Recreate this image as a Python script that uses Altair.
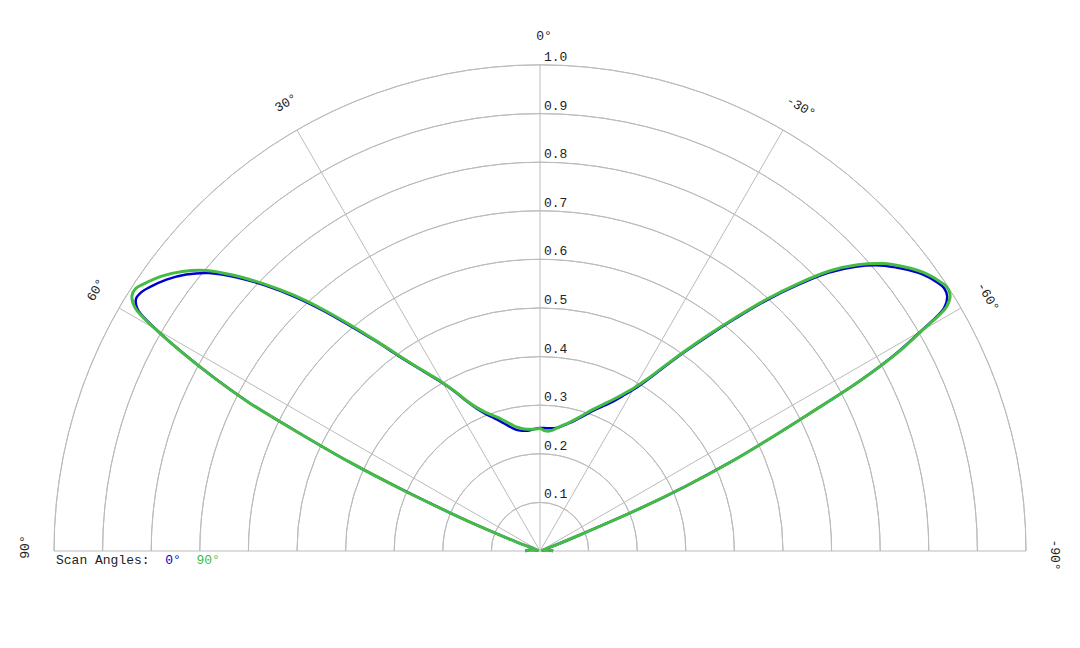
import math
import altair as alt
import pandas as pd

# ---------------- data ----------------
angles = [-90, -85, -80, -75, -70, -69, -68, -67, -66, -65, -64, -63, -62, -61, -60,
          -59, -58, -57, -56, -54, -52, -50, -48, -46, -44, -42, -40, -38, -36, -34,
          -32, -30, -28, -26, -24, -22, -20, -18, -16, -14, -12, -10, -8, -6, -4, -2,
          0,
          2, 4, 6, 8, 10, 12, 14, 16, 18, 20, 22, 24, 26, 28, 30, 32, 34, 36, 38, 40,
          42, 44, 46, 48, 50, 52, 54, 56, 57, 58, 59, 60, 61, 62, 63, 64, 65, 66, 67,
          68, 69, 70, 75, 80, 85, 90]

r_scan0 = [0.027, 0.020, 0.012, 0.005, 0.010, 0.040, 0.092, 0.220, 0.330, 0.430,
           0.520, 0.620, 0.745, 0.838, 0.905, 0.970, 0.988, 0.992, 0.987, 0.970,
           0.944, 0.914, 0.874, 0.824, 0.759, 0.692, 0.623, 0.561, 0.506, 0.456,
           0.414, 0.383, 0.361, 0.342, 0.328, 0.316, 0.304, 0.293, 0.283, 0.274,
           0.267, 0.261, 0.256, 0.254, 0.253, 0.253,
           0.253,
           0.252, 0.250, 0.249, 0.250, 0.252, 0.257, 0.265, 0.274, 0.284, 0.294,
           0.306, 0.321, 0.342, 0.370, 0.398, 0.426, 0.458, 0.497, 0.547, 0.602,
           0.665, 0.728, 0.787, 0.842, 0.890, 0.924, 0.950, 0.970, 0.978, 0.980,
           0.966, 0.912, 0.840, 0.760, 0.670, 0.540, 0.430, 0.310, 0.200, 0.117,
           0.050, 0.010, 0.005, 0.012, 0.022, 0.030]

r_scan90 = [0.027, 0.020, 0.012, 0.005, 0.010, 0.040, 0.092, 0.220, 0.330, 0.430,
            0.520, 0.620, 0.745, 0.840, 0.908, 0.976, 0.995, 0.998, 0.992, 0.975,
            0.950, 0.920, 0.880, 0.830, 0.765, 0.697, 0.628, 0.566, 0.510, 0.460,
            0.418, 0.388, 0.366, 0.348, 0.333, 0.320, 0.308, 0.296, 0.285, 0.276,
            0.268, 0.262, 0.256, 0.250, 0.247, 0.248,
            0.252,
            0.251, 0.251, 0.252, 0.254, 0.258, 0.264, 0.272, 0.281, 0.290, 0.299,
            0.310, 0.324, 0.344, 0.372, 0.400, 0.428, 0.460, 0.500, 0.550, 0.607,
            0.670, 0.733, 0.792, 0.848, 0.898, 0.934, 0.962, 0.983, 0.992, 0.990,
            0.972, 0.915, 0.840, 0.760, 0.670, 0.540, 0.430, 0.310, 0.200, 0.117,
            0.050, 0.010, 0.005, 0.012, 0.022, 0.030]

series_names = ["0°", "90°"]

ring_radii = [0.1, 0.2, 0.3, 0.4, 0.5, 0.6, 0.7, 0.8, 0.9, 1.0]
tick_labels = ["0.1", "0.2", "0.3", "0.4", "0.5", "0.6", "0.7", "0.8", "0.9", "1.0"]

spoke_angles = [-90, -60, -30, 0, 30, 60, 90]
angle_labels = ["-90°", "-60°", "-30°", "0°", "30°", "60°", "90°"]

legend_title = "Scan Angles:"

# ---------------- styling ----------------
W, H = 972, 486
FONT = "Liberation Mono"
GRID = "#bbbbbb"
BLUE = "#0000cc"
GREEN = "#44bb44"
TXT = "#222222"

xs = alt.Scale(domain=[-1, 1], nice=False, zero=False)
ys = alt.Scale(domain=[0, 1], nice=False, zero=False)
rs = alt.Scale(type="linear", domain=[0, 1], range=[0, H], zero=True)

n = len(angles)
curves = pd.DataFrame({
    "angle": angles + angles,
    "r": r_scan0 + r_scan90,
    "scan": [series_names[0]] * n + [series_names[1]] * n,
})

# rings (half circles)
rings = alt.Chart(pd.DataFrame({"r": ring_radii})).mark_arc(
    filled=False, stroke=GRID, strokeWidth=1,
    theta=1.5 * math.pi, theta2=2.5 * math.pi
).encode(
    x=alt.XDatum(0, type="quantitative", scale=xs, axis=None),
    y=alt.YDatum(0, type="quantitative", scale=ys, axis=None),
    radius=alt.Radius("r:Q", scale=rs),
    radius2=alt.Radius2("r:Q"),
)

# spokes
spokes = alt.Chart(pd.DataFrame({"angle": spoke_angles})).transform_calculate(
    x0="0", y0="0",
    x1="-sin(datum.angle * PI / 180)",
    y1="cos(datum.angle * PI / 180)",
).mark_rule(color=GRID, strokeWidth=1).encode(
    x=alt.X("x0:Q", scale=xs, axis=None),
    y=alt.Y("y0:Q", scale=ys, axis=None),
    x2="x1:Q", y2="y1:Q",
)


def curve(name, color, width):
    return alt.Chart(curves).transform_filter(
        alt.datum.scan == name
    ).transform_calculate(
        px="-datum.r * sin(datum.angle * PI / 180)",
        py="datum.r * cos(datum.angle * PI / 180)",
    ).mark_line(color=color, strokeWidth=width, strokeJoin="round",
                interpolate="catmull-rom").encode(
        x=alt.X("px:Q", scale=xs, axis=None),
        y=alt.Y("py:Q", scale=ys, axis=None),
        order=alt.Order("angle:Q"),
    )


blue_line = curve(series_names[0], BLUE, 2.5)
green_line = curve(series_names[1], GREEN, 3)

# angle labels
alabels = alt.Chart(pd.DataFrame({"angle": spoke_angles, "text": angle_labels})).transform_calculate(
    px="-1.06 * sin(datum.angle * PI / 180)",
    py="1.06 * cos(datum.angle * PI / 180)",
    rot="(360 - datum.angle) % 360",
).mark_text(font=FONT, fontSize=13, align="center", baseline="middle", dx=4, color=TXT).encode(
    x=alt.X("px:Q", scale=xs, axis=None),
    y=alt.Y("py:Q", scale=ys, axis=None),
    text="text:N",
    angle=alt.Angle("rot:Q", scale=None),
)

# radial tick labels
rlabels = alt.Chart(pd.DataFrame({"r": ring_radii, "text": tick_labels})).transform_calculate(
    x0="0"
).mark_text(font=FONT, fontSize=13, align="left", baseline="alphabetic", dx=4, dy=-4, color=TXT).encode(
    x=alt.X("x0:Q", scale=xs, axis=None),
    y=alt.Y("r:Q", scale=ys, axis=None),
    text="text:N",
)

# legend (text line below the baseline)
ADV = 7.8
LEG_Y = H + 13
leg_parts = []
for txt, col, offset in [(legend_title, TXT, 0), (series_names[0], BLUE, 14), (series_names[1], GREEN, 18)]:
    leg_parts.append(
        alt.Chart(pd.DataFrame({"t": [txt]})).mark_text(
            font=FONT, fontSize=13, align="left", baseline="alphabetic", color=col
        ).encode(
            x=alt.value(2 + offset * ADV),
            y=alt.value(LEG_Y),
            text="t:N",
        )
    )

chart = alt.layer(rings, spokes, blue_line, green_line, alabels, rlabels, *leg_parts).properties(
    width=W, height=H,
    autosize=alt.AutoSizeParams(type="none"),
    padding={"left": 46, "top": 57, "right": 42, "bottom": 70},
).configure_view(strokeWidth=0)

chart.save("out.html", embed_options={"renderer": "svg", "actions": False})
